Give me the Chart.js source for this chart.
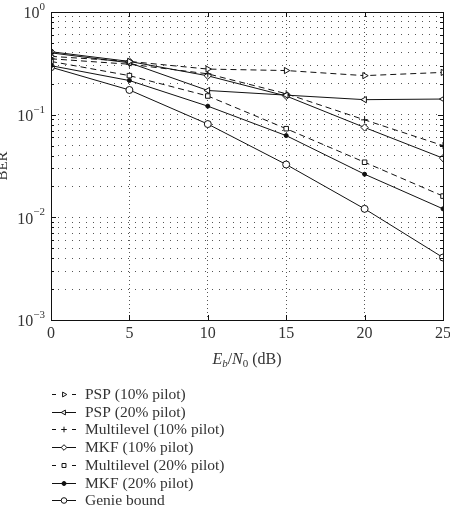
<!DOCTYPE html>
<html>
<head>
<meta charset="utf-8">
<script src="https://cdn.jsdelivr.net/npm/chart.js@4/dist/chart.umd.min.js"></script>
<style>
html,body{margin:0;padding:0;background:#fff;}
#wrap{width:450px;height:510px;position:relative;}
</style>
</head>
<body>
<div id="wrap"><canvas id="c" width="450" height="510"></canvas></div>
<script>
// ---- data ----
const ebno = [0, 5, 10, 15, 20, 25];
const xTicks = [0, 5, 10, 15, 20, 25];
const yDecades = [1e-3, 1e-2, 1e-1, 1];
const yExponents = ['−3', '−2', '−1', '0'];
const seriesNames = [
  'PSP (10% pilot)',
  'PSP (20% pilot)',
  'Multilevel (10% pilot)',
  'MKF (10% pilot)',
  'Multilevel (20% pilot)',
  'MKF (20% pilot)',
  'Genie bound'
];
const psp10 = [0.37, 0.33, 0.278, 0.269, 0.240, 0.258];
const psp20 = [0.40, 0.32, 0.172, 0.155, 0.140, 0.142];
const multi10 = [0.35, 0.31, 0.250, 0.160, 0.089, 0.050];
const mkf10 = [0.41, 0.33, 0.239, 0.152, 0.075, 0.0377];
const multi20 = [0.33, 0.24, 0.152, 0.073, 0.0344, 0.0161];
const mkf20 = [0.30, 0.215, 0.121, 0.0625, 0.0263, 0.0121];
const genie = [0.29, 0.174, 0.081, 0.0327, 0.0121, 0.00406];

const seriesValues = [psp10, psp20, multi10, mkf10, multi20, mkf20, genie];
const styles = [
  {dash:[6,4], pointStyle:'triangle', rot:90, r:3.6, fill:'#fff'},
  {dash:[], pointStyle:'triangle', rot:-90, r:3.6, fill:'#fff'},
  {dash:[6,4], pointStyle:'cross', rot:0, r:3.5, fill:'#fff'},
  {dash:[], pointStyle:'rectRot', rot:0, r:3.6, fill:'#fff'},
  {dash:[6,4], pointStyle:'rect', rot:0, r:3.2, fill:'#fff'},
  {dash:[], pointStyle:'circle', rot:0, r:2, fill:'#111'},
  {dash:[], pointStyle:'circle', rot:0, r:3.5, fill:'#fff'}
];

const datasets = seriesValues.map((vals, i) => ({
  label: seriesNames[i],
  data: vals.map((v, k) => ({x: ebno[k], y: v})),
  borderColor: '#111',
  borderWidth: 1,
  borderDash: styles[i].dash,
  pointStyle: styles[i].pointStyle,
  pointRotation: styles[i].rot,
  pointRadius: styles[i].r,
  pointBorderWidth: 1,
  pointBorderColor: '#111',
  pointBackgroundColor: styles[i].fill,
  backgroundColor: styles[i].fill,
  tension: 0,
  fill: false
}));

const yAllTicks = [];
for (let e = -3; e <= 0; e++) {
  for (let m = 1; m <= 9; m++) {
    const v = m * Math.pow(10, e);
    if (v <= 1.0000001) yAllTicks.push(v);
  }
}

const FONT = '"Liberation Serif", "DejaVu Serif", serif';

const decor = {
  id: 'decor',
  afterDraw(chart) {
    const ctx = chart.ctx;
    const a = chart.chartArea;
    const xs = chart.scales.x, ys = chart.scales.y;
    ctx.save();
    // box
    ctx.strokeStyle = '#111';
    ctx.lineWidth = 1;
    ctx.setLineDash([]);
    ctx.strokeRect(Math.round(a.left) + 0.5, Math.round(a.top) + 0.5, Math.round(a.right - a.left), Math.round(a.bottom - a.top));
    // ticks inward
    ctx.beginPath();
    xTicks.forEach(t => {
      const px = Math.round(xs.getPixelForValue(t)) + 0.5;
      ctx.moveTo(px, a.bottom); ctx.lineTo(px, a.bottom - 5);
      ctx.moveTo(px, a.top); ctx.lineTo(px, a.top + 5);
    });
    yAllTicks.forEach(v => {
      const py = Math.round(ys.getPixelForValue(v)) + 0.5;
      const major = Math.abs(Math.log10(v) - Math.round(Math.log10(v))) < 1e-9;
      const L = major ? 5 : 3;
      ctx.moveTo(a.left, py); ctx.lineTo(a.left + L, py);
      ctx.moveTo(a.right, py); ctx.lineTo(a.right - L, py);
    });
    ctx.stroke();

    ctx.fillStyle = '#333';
    // x tick labels
    ctx.font = '16px ' + FONT;
    ctx.textAlign = 'center';
    ctx.textBaseline = 'middle';
    xTicks.forEach(t => {
      ctx.fillText(String(t), xs.getPixelForValue(t), a.bottom + 14);
    });
    // y tick labels 10^k
    yDecades.forEach((v, i) => {
      const py = ys.getPixelForValue(v);
      ctx.font = '11px ' + FONT;
      const ew = ctx.measureText(yExponents[i]).width;
      ctx.font = '16px ' + FONT;
      const bw = ctx.measureText('10').width;
      const right = a.left - 6;
      ctx.textAlign = 'left';
      ctx.textBaseline = 'middle';
      ctx.font = '16px ' + FONT;
      ctx.fillText('10', right - ew - bw, py + 2);
      ctx.font = '11px ' + FONT;
      ctx.fillText(yExponents[i], right - ew, py - 5);
    });
    // y axis title
    ctx.save();
    ctx.translate(3, 166);
    ctx.rotate(-Math.PI / 2);
    ctx.font = '15px ' + FONT;
    ctx.textAlign = 'center';
    ctx.textBaseline = 'middle';
    ctx.fillText('BER', 0, 0);
    ctx.restore();
    // x axis title: E_b/N_0 (dB)
    const parts = [
      {t:'E', f:'italic 16px ' + FONT, dy:0},
      {t:'b', f:'italic 11px ' + FONT, dy:3},
      {t:'/', f:'16px ' + FONT, dy:0},
      {t:'N', f:'italic 16px ' + FONT, dy:0},
      {t:'0', f:'11px ' + FONT, dy:3},
      {t:' (dB)', f:'16px ' + FONT, dy:0}
    ];
    let total = 0;
    parts.forEach(p => { ctx.font = p.f; p.w = ctx.measureText(p.t).width; total += p.w; });
    let cx = (a.left + a.right) / 2 - total / 2;
    ctx.textAlign = 'left';
    ctx.textBaseline = 'alphabetic';
    parts.forEach(p => { ctx.font = p.f; ctx.fillText(p.t, cx, 364 + p.dy); cx += p.w; });

    // legend
    const rowY0 = 394, rowH = 17.7;
    chart.data.datasets.forEach((ds, i) => {
      const y = Math.round(rowY0 + i * rowH) + 0.5;
      ctx.strokeStyle = '#111';
      ctx.lineWidth = 1;
      ctx.beginPath();
      if (styles[i].dash.length) {
        ctx.moveTo(52, y); ctx.lineTo(56, y);
        ctx.moveTo(72, y); ctx.lineTo(76, y);
      } else {
        ctx.moveTo(52, y); ctx.lineTo(76, y);
      }
      ctx.stroke();
      ctx.fillStyle = styles[i].fill;
      ctx.strokeStyle = '#111';
      Chart.helpers.drawPoint(ctx, {
        pointStyle: styles[i].pointStyle,
        rotation: styles[i].rot,
        radius: Math.min(styles[i].r, 2.8),
        borderWidth: 1
      }, 64, y);
      ctx.fillStyle = '#333';
      ctx.font = '15.5px ' + FONT;
      ctx.textAlign = 'left';
      ctx.textBaseline = 'middle';
      ctx.fillText(ds.label, 85, y);
    });
    ctx.restore();
  }
};

new Chart(document.getElementById('c'), {
  type: 'line',
  data: { datasets },
  options: {
    responsive: false,
    animation: false,
    devicePixelRatio: 1,
    layout: { padding: { left: 0, right: 7, top: 12, bottom: 0 } },
    plugins: { legend: { display: false }, tooltip: { enabled: false } },
    scales: {
      x: {
        type: 'linear',
        min: 0, max: 25,
        afterBuildTicks: s => { s.ticks = xTicks.map(v => ({value: v})); },
        afterFit: s => { s.height = 190; },
        ticks: { display: false },
        grid: { color: '#555', lineWidth: 1, drawTicks: false },
        border: { display: false, dash: [1, 3] }
      },
      y: {
        type: 'logarithmic',
        min: 1e-3, max: 1,
        afterBuildTicks: s => { s.ticks = yAllTicks.map(v => ({value: v})); },
        afterFit: s => { s.width = 51; },
        ticks: { display: false },
        grid: { color: '#555', lineWidth: 1, drawTicks: false },
        border: { display: false, dash: [1, 6] }
      }
    }
  },
  plugins: [decor]
});
</script>
</body>
</html>
